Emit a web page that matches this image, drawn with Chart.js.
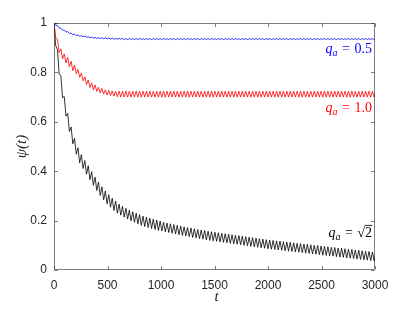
<!DOCTYPE html>
<html>
<head>
<meta charset="utf-8">
<script src="https://cdn.jsdelivr.net/npm/chart.js@4"></script>
<style>
  html, body { margin: 0; padding: 0; background: #fff; }
  #wrap { width: 415px; height: 312px; }
</style>
</head>
<body>
<div id="wrap"><canvas id="chart"></canvas></div>
<script>
// samples are taken every tStep in t (two per oscillation period)
const tStep = 16;
const xTicks = [0, 500, 1000, 1500, 2000, 2500, 3000];
const yTicks = [0, 0.2, 0.4, 0.6, 0.8, 1];

// q_a = 0.5
const psiBlue = [
  1.000, 0.991, 0.990, 0.980, 0.979, 0.971, 0.971, 0.964, 0.965, 0.958,
  0.959, 0.953, 0.955, 0.949, 0.952, 0.946, 0.949, 0.944, 0.947, 0.942,
  0.945, 0.940, 0.943, 0.939, 0.942, 0.937, 0.941, 0.937, 0.940, 0.936,
  0.940, 0.935, 0.939, 0.935, 0.939, 0.934, 0.938, 0.934, 0.938, 0.934,
  0.938,
  0.933, 0.937, 0.933, 0.937, 0.933, 0.937, 0.933, 0.937, 0.933, 0.937,
  0.933, 0.937, 0.933, 0.937, 0.933, 0.937, 0.933, 0.937, 0.933, 0.937,
  0.933, 0.937, 0.933, 0.937, 0.933, 0.937, 0.933, 0.937, 0.933, 0.937,
  0.933, 0.937, 0.933, 0.937, 0.933, 0.937, 0.933, 0.937, 0.933, 0.937,
  0.933, 0.937, 0.933, 0.937, 0.933, 0.937, 0.933, 0.937, 0.933, 0.937,
  0.933, 0.937, 0.933, 0.937, 0.933, 0.937, 0.933, 0.937, 0.933, 0.937,
  0.933, 0.937, 0.933, 0.937, 0.933, 0.937, 0.933, 0.937, 0.933, 0.937,
  0.933, 0.937, 0.933, 0.937, 0.933, 0.937, 0.933, 0.937, 0.933, 0.937,
  0.933, 0.937, 0.933, 0.937, 0.933, 0.937, 0.933, 0.937, 0.933, 0.937,
  0.933, 0.937, 0.933, 0.937, 0.933, 0.937, 0.933, 0.937, 0.933, 0.937,
  0.933, 0.937, 0.933, 0.937, 0.933, 0.937, 0.933, 0.937, 0.933, 0.937,
  0.933, 0.937, 0.933, 0.937, 0.933, 0.937, 0.933, 0.937, 0.933, 0.937,
  0.933, 0.937, 0.933, 0.937, 0.933, 0.937, 0.933, 0.937, 0.933, 0.937,
  0.933, 0.937, 0.933, 0.937, 0.933, 0.937, 0.933, 0.937, 0.933, 0.937,
  0.933, 0.937, 0.933, 0.937, 0.933, 0.937, 0.933, 0.937
];

// q_a = 1.0
const psiRed = [
  1.000, 0.940, 0.935, 0.880, 0.895, 0.855, 0.875, 0.838, 0.861, 0.823,
  0.845, 0.807, 0.830, 0.795, 0.812, 0.780, 0.797, 0.766, 0.782, 0.751,
  0.769, 0.739, 0.758, 0.729, 0.749, 0.723, 0.740, 0.717, 0.735, 0.712,
  0.730, 0.708, 0.727, 0.706, 0.725, 0.704, 0.723, 0.701,
  0.724, 0.700, 0.724, 0.700, 0.724, 0.700, 0.724, 0.700, 0.724, 0.700,
  0.724, 0.700, 0.724, 0.700, 0.724, 0.700, 0.724, 0.700, 0.724, 0.700,
  0.724, 0.700, 0.724, 0.700, 0.724, 0.700, 0.724, 0.700, 0.724, 0.700,
  0.724, 0.700, 0.724, 0.700, 0.724, 0.700, 0.724, 0.700, 0.724, 0.700,
  0.724, 0.700, 0.724, 0.700, 0.724, 0.700, 0.724, 0.700, 0.724, 0.700,
  0.724, 0.700, 0.724, 0.700, 0.724, 0.700, 0.724, 0.700, 0.724, 0.700,
  0.724, 0.700, 0.724, 0.700, 0.724, 0.700, 0.724, 0.700, 0.724, 0.700,
  0.724, 0.700, 0.724, 0.700, 0.724, 0.700, 0.724, 0.700, 0.724, 0.700,
  0.724, 0.700, 0.724, 0.700, 0.724, 0.700, 0.724, 0.700, 0.724, 0.700,
  0.724, 0.700, 0.724, 0.700, 0.724, 0.700, 0.724, 0.700, 0.724, 0.700,
  0.724, 0.700, 0.724, 0.700, 0.724, 0.700, 0.724, 0.700, 0.724, 0.700,
  0.724, 0.700, 0.724, 0.700, 0.724, 0.700, 0.724, 0.700, 0.724, 0.700,
  0.724, 0.700, 0.724, 0.700, 0.724, 0.700, 0.724, 0.700, 0.724, 0.700,
  0.724, 0.700, 0.724, 0.700, 0.724, 0.700, 0.724, 0.700, 0.724, 0.700,
  0.724, 0.700, 0.724, 0.700, 0.724, 0.700, 0.724, 0.700, 0.724, 0.700,
  0.724
];

// q_a = sqrt(2)
const psiBlack = [
  1.000, 0.908, 0.892, 0.793, 0.787, 0.698, 0.702, 0.623, 0.634, 0.561,
  0.579, 0.511, 0.533, 0.469, 0.495, 0.434, 0.467, 0.411, 0.443, 0.388,
  0.422, 0.366, 0.398, 0.343, 0.376, 0.322, 0.356, 0.302, 0.337, 0.284,
  0.320, 0.268, 0.305, 0.254, 0.291, 0.241, 0.279, 0.230, 0.267, 0.222,
  0.258, 0.214, 0.250, 0.206, 0.242, 0.199, 0.236, 0.193, 0.230, 0.187,
  0.224, 0.181, 0.218, 0.176, 0.214, 0.172, 0.210, 0.168, 0.206, 0.164,
  0.202, 0.160, 0.198, 0.158, 0.193, 0.155, 0.190, 0.152, 0.187, 0.149,
  0.184, 0.146, 0.181, 0.143, 0.178, 0.140, 0.175, 0.138, 0.172, 0.135,
  0.170, 0.132, 0.167, 0.130, 0.164, 0.127, 0.162, 0.125, 0.160, 0.122,
  0.157, 0.120, 0.155, 0.118, 0.153, 0.116, 0.151, 0.114, 0.149, 0.112,
  0.147, 0.110, 0.145, 0.108, 0.143, 0.106, 0.141, 0.104, 0.139, 0.102,
  0.137, 0.100, 0.135, 0.098, 0.133, 0.096, 0.131, 0.094, 0.129, 0.092,
  0.127, 0.090, 0.125, 0.088, 0.123, 0.086, 0.121, 0.084, 0.120, 0.083,
  0.118, 0.081, 0.117, 0.080, 0.115, 0.078, 0.113, 0.076, 0.112, 0.075,
  0.110, 0.073, 0.108, 0.072, 0.107, 0.070, 0.105, 0.068, 0.104, 0.067,
  0.102, 0.065, 0.100, 0.064, 0.099, 0.062, 0.097, 0.060, 0.096, 0.059,
  0.094, 0.057, 0.092, 0.056, 0.091, 0.054, 0.089, 0.052, 0.088, 0.051,
  0.086, 0.049, 0.084, 0.048, 0.083, 0.046, 0.081, 0.044, 0.080, 0.043,
  0.078, 0.041, 0.076, 0.040, 0.075, 0.038, 0.073, 0.036, 0.072
];

const axisColor = '#262626';
const serif = '"Liberation Serif", "DejaVu Serif", serif';

function toPoints(ys) {
    return ys.map((y, i) => ({ x: i * tStep, y: y }));
}

// q_a = value label, right aligned, in TeX-like style
function drawQLabel(ctx, right, base, color, value, root) {
    ctx.save();
    ctx.fillStyle = color;
    ctx.strokeStyle = color;
    ctx.textBaseline = 'alphabetic';
    ctx.textAlign = 'left';
    const big = 'italic 14px ' + serif;
    const sub = 'italic 10px ' + serif;
    const up = '14px ' + serif;
    ctx.font = big; const wq = ctx.measureText('q').width;
    ctx.font = sub; const wa = ctx.measureText('a').width;
    ctx.font = up;
    const weq = ctx.measureText('=').width;
    const wr = root ? ctx.measureText('\u221A').width : 0;
    const wv = ctx.measureText(value).width;
    const gap = 4.5;
    let x = right - (wq + wa + gap + weq + gap + wr + wv);
    ctx.font = big; ctx.fillText('q', x, base); x += wq;
    ctx.font = sub; ctx.fillText('a', x, base + 3); x += wa + gap;
    ctx.font = up; ctx.fillText('=', x, base); x += weq + gap;
    if (root) {
        ctx.fillText('\u221A', x, base);
        x += wr;
        ctx.lineWidth = 0.8;
        ctx.beginPath();
        ctx.moveTo(x - 0.5, base - 11.5);
        ctx.lineTo(x + wv + 0.5, base - 11.5);
        ctx.stroke();
    }
    ctx.fillText(value, x, base);
    ctx.restore();
}

const framePlugin = {
    id: 'frame',
    afterDraw(chart) {
        const { ctx, chartArea: a, scales: { x, y } } = chart;
        const L = Math.round(a.left) + 0.5, R = Math.round(a.right) - 0.5;
        const T = Math.round(a.top) + 0.5, B = Math.round(a.bottom) - 0.5;
        ctx.save();
        ctx.strokeStyle = axisColor;
        ctx.lineWidth = 0.6;
        ctx.strokeRect(L, T, R - L, B - T);
        ctx.beginPath();
        xTicks.forEach(v => {
            const px = Math.round(x.getPixelForValue(v)) + 0.5;
            ctx.moveTo(px, B); ctx.lineTo(px, B - 3.5);
            ctx.moveTo(px, T); ctx.lineTo(px, T + 3.5);
        });
        yTicks.forEach(v => {
            const py = Math.round(y.getPixelForValue(v)) + 0.5;
            ctx.moveTo(L, py); ctx.lineTo(L + 3.5, py);
            ctx.moveTo(R, py); ctx.lineTo(R - 3.5, py);
        });
        ctx.stroke();

        // axis titles
        ctx.fillStyle = axisColor;
        ctx.textAlign = 'center';
        ctx.textBaseline = 'alphabetic';
        ctx.font = 'italic 15px ' + serif;
        ctx.fillText('t', (a.left + a.right) / 2 + 2, a.bottom + 31);
        ctx.save();
        ctx.translate(a.left - 28, (a.top + a.bottom) / 2);
        ctx.rotate(-Math.PI / 2);
        ctx.fillText('\u03C8(t)', 0, 0);
        ctx.restore();
        ctx.restore();

        // curve labels
        const right = a.right - 3;
        drawQLabel(ctx, right, y.getPixelForValue(0.879), '#0000ff', '0.5', false);
        drawQLabel(ctx, right, y.getPixelForValue(0.641), '#ff0000', '1.0', false);
        drawQLabel(ctx, right, y.getPixelForValue(0.134), '#000000', '2', true);
    }
};

const tickFont = { family: '"Liberation Sans", Arial, sans-serif', size: 12 };

new Chart(document.getElementById('chart').getContext('2d'), {
    type: 'line',
    data: {
        datasets: [
            { label: 'q_a = 0.5', data: toPoints(psiBlue), borderColor: '#0000ff', borderWidth: 0.8 },
            { label: 'q_a = 1.0', data: toPoints(psiRed), borderColor: '#ff0000', borderWidth: 0.8 },
            { label: 'q_a = sqrt(2)', data: toPoints(psiBlack), borderColor: '#000000', borderWidth: 0.8 }
        ]
    },
    options: {
        responsive: true,
        maintainAspectRatio: false,
        animation: false,
        devicePixelRatio: 1,
        layout: { padding: { top: 23, right: 40, left: 0, bottom: 0 } },
        elements: { point: { radius: 0 }, line: { tension: 0 } },
        plugins: { legend: { display: false }, tooltip: { enabled: false } },
        scales: {
            x: {
                type: 'linear',
                min: 0,
                max: 3000,
                afterBuildTicks: s => { s.ticks = xTicks.map(v => ({ value: v })); },
                afterFit: s => { s.height = 42; },
                grid: { display: false, drawTicks: false },
                border: { display: false },
                ticks: { font: tickFont, color: axisColor, padding: 8, maxRotation: 0, autoSkip: false,
                         callback: v => String(v) }
            },
            y: {
                min: 0,
                max: 1,
                afterBuildTicks: s => { s.ticks = yTicks.map(v => ({ value: v })); },
                afterFit: s => { s.width = 54; },
                grid: { display: false, drawTicks: false },
                border: { display: false },
                ticks: { font: tickFont, color: axisColor, padding: 7, autoSkip: false,
                         callback: v => String(v) }
            }
        }
    },
    plugins: [framePlugin]
});
</script>
</body>
</html>
